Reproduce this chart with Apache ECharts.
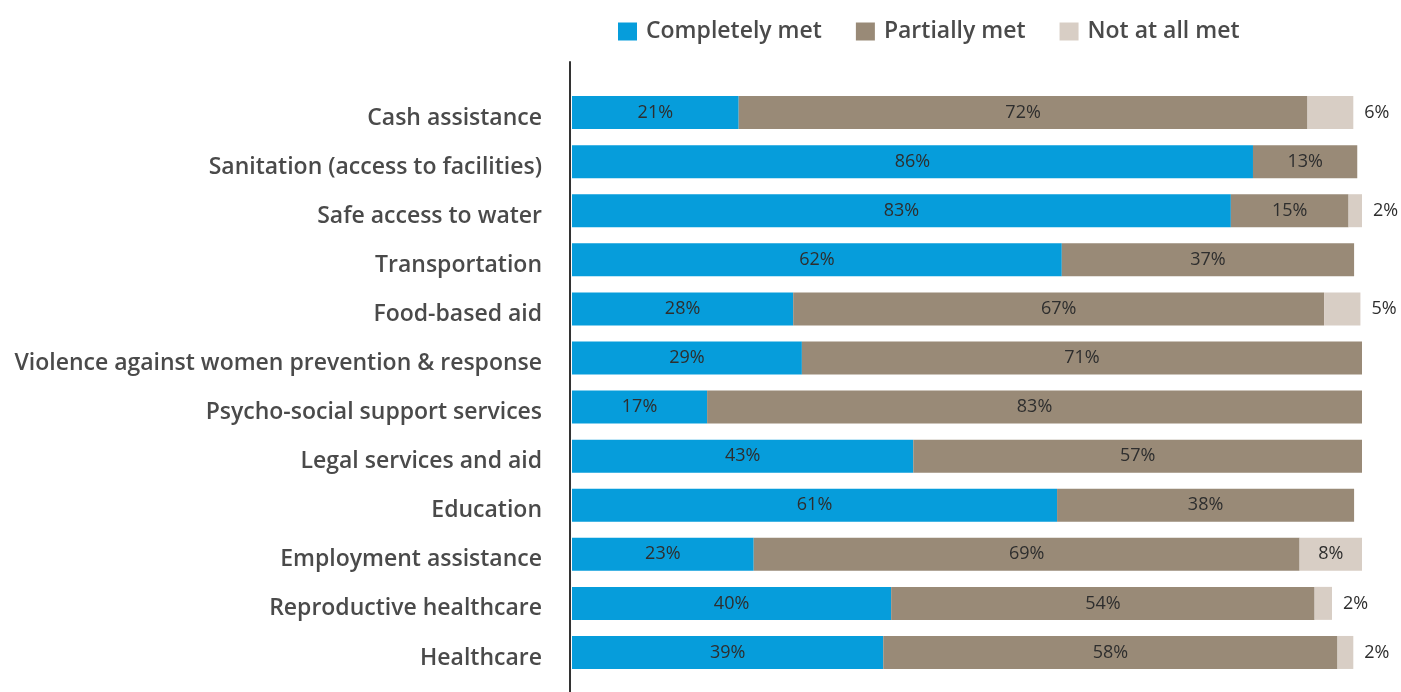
<!DOCTYPE html>
<html>
<head>
<meta charset="utf-8">
<script src="https://cdn.jsdelivr.net/npm/echarts@6/dist/echarts.min.js"></script>
<style>
  html, body { margin: 0; padding: 0; background: #fff; }
  #chart { width: 1401px; height: 692px; }
</style>
</head>
<body>
<div id="chart"></div>
<script>
const categories = [
  'Cash assistance',
  'Sanitation (access to facilities)',
  'Safe access to water',
  'Transportation',
  'Food-based aid',
  'Violence against women prevention & response',
  'Psycho-social support services',
  'Legal services and aid',
  'Education',
  'Employment assistance',
  'Reproductive healthcare',
  'Healthcare'
];
const seriesNames = ['Completely met', 'Partially met', 'Not at all met'];
const completelyMet = [21.1, 86.2, 83.4, 62.0, 28.0, 29.1, 17.1, 43.2, 61.4, 23.0, 40.4, 39.4];
const partiallyMet  = [72.0, 13.2, 14.9, 37.0, 67.2, 71.4, 82.9, 56.8, 37.6, 69.1, 53.6, 57.5];
const notAtAllMet   = [5.8, null, 2.0, null, 4.6, null, null, null, null, 8.1, 2.2, 2.0];

const colors = ['#069ddb', '#998a77', '#d8cec5'];
const FONT = "'Open Sans', sans-serif";

const pct = p => (p.value == null || p.value === 0) ? '' : Math.round(p.value) + '%';
const barLabel = {
  show: true,
  position: 'inside',
  color: '#2e2e2e',
  fontSize: 18,
  fontFamily: FONT,
  formatter: pct
};

const chart = echarts.init(document.getElementById('chart'), null, { renderer: 'canvas' });
chart.setOption({
  animation: false,
  backgroundColor: '#ffffff',
  color: colors,
  legend: {
    data: seriesNames,
    left: 613,
    top: 15,
    icon: 'rect',
    itemWidth: 19,
    itemHeight: 18,
    itemGap: 34,
    textStyle: { fontSize: 23, fontWeight: 600, color: '#4a4a4a', fontFamily: FONT, padding: [0, 0, 0, 4] }
  },
  grid: [
    { left: 572, right: 39, top: 88, bottom: 15 },
    { left: 570, width: 1, top: 62, bottom: 0 }
  ],
  xAxis: [
    { type: 'value', gridIndex: 0, min: 0, max: 100, show: false },
    { type: 'value', gridIndex: 1, min: 0, max: 1, show: false }
  ],
  yAxis: [
    {
      type: 'category',
      gridIndex: 0,
      data: categories,
      inverse: true,
      axisLine: { show: false },
      axisTick: { show: false },
      axisLabel: {
        margin: 30,
        formatter: v => '{a|' + v + '}',
        rich: {
          a: {
            fontSize: 23,
            fontWeight: 600,
            color: '#4a4a4a',
            fontFamily: FONT,
            padding: [11, 0, 0, 0]
          }
        }
      }
    },
    {
      type: 'value',
      gridIndex: 1,
      min: 0,
      max: 1,
      axisLine: { show: true, lineStyle: { color: '#333', width: 2 } },
      axisTick: { show: false },
      axisLabel: { show: false },
      splitLine: { show: false }
    }
  ],
  series: [
    {
      name: seriesNames[0], type: 'bar', stack: 'total', barWidth: 33,
      data: completelyMet, label: barLabel
    },
    {
      name: seriesNames[1], type: 'bar', stack: 'total', barWidth: 33,
      data: partiallyMet, label: barLabel
    },
    {
      name: seriesNames[2], type: 'bar', stack: 'total', barWidth: 33,
      data: notAtAllMet.map(v => ({
        value: v,
        label: v != null && v < 7
          ? { position: 'right', distance: 11 }
          : { position: 'inside' }
      })),
      label: barLabel
    }
  ]
});
</script>
</body>
</html>
